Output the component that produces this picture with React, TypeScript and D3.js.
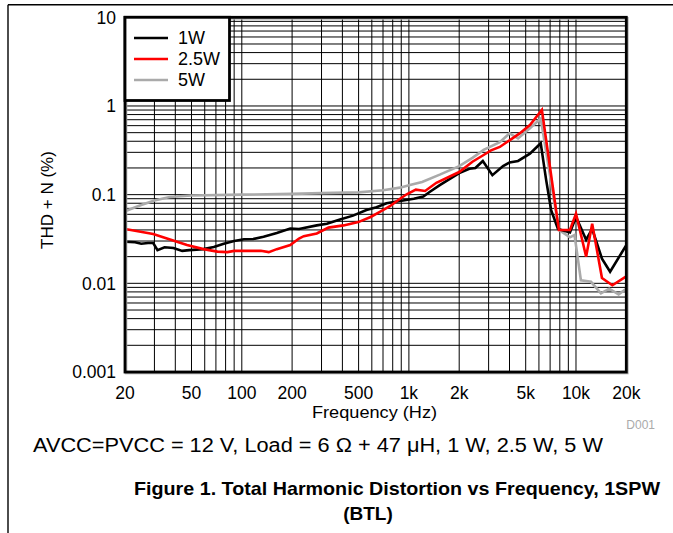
import React from "react";
import * as d3 from "d3";

// ---- data ----
const FREQ_1W = [20, 23, 25, 27.5, 29.5, 31.3, 34.5, 39, 44, 48.5, 59, 68, 78, 90, 103, 117, 135, 162, 195, 220, 281, 323, 387, 463, 557, 640, 735, 885, 1070, 1220, 1330, 1530, 2000, 2300, 2500, 2770, 3160, 3660, 4000, 4500, 5300, 6150, 6630, 7100, 7800, 9200, 10000, 11500, 12500, 14300, 16000, 20000];
const THD_1W = [0.0294, 0.029, 0.028, 0.0285, 0.0285, 0.0237, 0.0255, 0.025, 0.0232, 0.0237, 0.0243, 0.0257, 0.028, 0.03, 0.0314, 0.0316, 0.0335, 0.037, 0.0415, 0.041, 0.045, 0.047, 0.0525, 0.058, 0.067, 0.072, 0.08, 0.085, 0.09, 0.095, 0.107, 0.128, 0.175, 0.196, 0.2, 0.24, 0.166, 0.21, 0.23, 0.24, 0.29, 0.38, 0.146, 0.067, 0.041, 0.0375, 0.056, 0.031, 0.041, 0.019, 0.0135, 0.027];

const FREQ_25W = [20, 29.5, 37.6, 47, 59, 71.5, 82, 90, 113, 130, 145, 162, 195, 220, 235, 281, 330, 406, 498, 590, 670, 770, 885, 970, 1100, 1250, 1460, 2000, 2400, 2800, 3100, 3500, 4000, 4600, 5300, 6250, 7900, 9200, 10000, 11500, 12500, 14300, 16500, 20000];
const THD_25W = [0.041, 0.036, 0.031, 0.027, 0.0243, 0.0228, 0.0225, 0.0232, 0.0232, 0.0233, 0.0225, 0.0243, 0.027, 0.032, 0.034, 0.0365, 0.0425, 0.045, 0.049, 0.056, 0.064, 0.074, 0.09, 0.101, 0.114, 0.11, 0.136, 0.18, 0.235, 0.28, 0.316, 0.345, 0.41, 0.49, 0.61, 0.9, 0.04, 0.04, 0.061, 0.02, 0.047, 0.0115, 0.0095, 0.012];

const FREQ_5W = [20, 25, 30, 37, 50, 100, 200, 300, 500, 700, 885, 1000, 1200, 1530, 2000, 2400, 2800, 3500, 4000, 4500, 5300, 6150, 7900, 9200, 9800, 10700, 12300, 14100, 15800, 18000, 20000];
const THD_5W = [0.065, 0.0763, 0.086, 0.094, 0.098, 0.1, 0.102, 0.104, 0.106, 0.112, 0.12, 0.128, 0.139, 0.168, 0.21, 0.26, 0.32, 0.39, 0.49, 0.43, 0.56, 0.72, 0.04, 0.033, 0.035, 0.0108, 0.0104, 0.0077, 0.0087, 0.0075, 0.0087];

const SERIES_NAMES = ["1W", "2.5W", "5W"];
const SERIES_COLORS = ["#000000", "#ff0000", "#aaaaaa"];

const X_TICKS = [20, 50, 100, 200, 500, 1000, 2000, 5000, 10000, 20000];
const X_TICK_LABELS = ["20", "50", "100", "200", "500", "1k", "2k", "5k", "10k", "20k"];
const Y_TICKS = [0.001, 0.01, 0.1, 1, 10];
const Y_TICK_LABELS = ["0.001", "0.01", "0.1", "1", "10"];

const X_LABEL = "Frequency (Hz)";
const Y_LABEL = "THD + N (%)";
const CAPTION = "AVCC=PVCC = 12 V, Load = 6 \u03A9 + 47 \u03BCH, 1 W, 2.5 W, 5 W";
const TITLE_1 = "Figure 1. Total Harmonic Distortion vs Frequency, 1SPW";
const TITLE_2 = "(BTL)";
const FIG_ID = "D001";

const FONT = "'Liberation Sans', Arial, sans-serif";

export default function App() {
  const W = 673, H = 533;
  const left = 125, right = 626.3, top = 17.3, bottom = 372;

  const x = d3.scaleLog().domain([20, 20000]).range([left, right]);
  const y = d3.scaleLog().domain([0.001, 10]).range([bottom, top]);

  // minor grid values
  const xGrid: number[] = [];
  for (let dec = 10; dec <= 10000; dec *= 10) {
    for (let m = 1; m <= 9; m++) {
      const v = dec * m;
      if (v > 20 && v < 20000) xGrid.push(v);
    }
  }
  const yGrid: number[] = [];
  for (let dec = 0.001; dec < 10; dec *= 10) {
    for (let m = 1; m <= 9; m++) {
      const v = dec * m;
      if (v > 0.0011 && v < 9.9) yGrid.push(v);
    }
  }

  const line = d3
    .line<[number, number]>()
    .x((d) => x(d[0]))
    .y((d) => y(d[1]));

  const series = [
    { f: FREQ_1W, v: THD_1W },
    { f: FREQ_25W, v: THD_25W },
    { f: FREQ_5W, v: THD_5W },
  ];

  // draw order: 5W underneath, then 1W, then 2.5W on top
  const order = [2, 0, 1];

  const legX = left, legY = top, legW = 229.5 - left, legH = 100.5 - top;

  return (
    <svg
      width={W}
      height={H}
      style={{ position: "absolute", left: 0, top: 0, background: "#fff" }}
      fontFamily={FONT}
    >
      <rect x={0} y={0} width={W} height={H} fill="#fff" />
      {/* outer figure frame */}
      <line x1={8} y1={4.7} x2={W} y2={4.7} stroke="#000" strokeWidth={1.4} />
      <line x1={8} y1={4.7} x2={8} y2={H} stroke="#000" strokeWidth={1.4} />

      {/* grid */}
      <g>
        {xGrid.map((v, i) => (
          <line key={"xg" + i} x1={x(v)} x2={x(v)} y1={top} y2={bottom} stroke="#000" strokeWidth={1} />
        ))}
        {yGrid.map((v, i) => (
          <line key={"yg" + i} x1={left} x2={right} y1={y(v)} y2={y(v)} stroke="#000" strokeWidth={1} />
        ))}
      </g>

      {/* series */}
      <g clipPath="url(#plotclip)">
        {order.map((si) => {
          const s = series[si];
          const pts = s.f.map((f, i) => [f, s.v[i]] as [number, number]);
          return (
            <path
              key={"s" + si}
              d={line(pts) || ""}
              fill="none"
              stroke={SERIES_COLORS[si]}
              strokeWidth={2.6}
              strokeLinejoin="miter"
            />
          );
        })}
      </g>
      <defs>
        <clipPath id="plotclip">
          <rect x={left} y={top} width={right - left} height={bottom - top} />
        </clipPath>
      </defs>

      {/* plot frame with slight shadow */}
      <rect x={left + 1} y={top + 1} width={right - left} height={bottom - top} fill="none" stroke="#aaa" strokeWidth={2.6} />
      <rect x={left} y={top} width={right - left} height={bottom - top} fill="none" stroke="#000" strokeWidth={2.8} />

      {/* legend */}
      <rect x={legX} y={legY} width={legW} height={legH} fill="#fff" stroke="#000" strokeWidth={2.8} />
      {SERIES_NAMES.map((n, i) => {
        const cy = 38 + i * 21;
        return (
          <g key={"lg" + i}>
            <line x1={134} x2={168} y1={cy} y2={cy} stroke={SERIES_COLORS[i]} strokeWidth={2.6} />
            <text x={178} y={cy} dy="0.36em" fontSize={18} fill="#000">
              {n}
            </text>
          </g>
        );
      })}

      {/* y ticks */}
      {Y_TICKS.map((v, i) => (
        <text key={"yt" + i} x={116} y={y(v)} dy="0.36em" textAnchor="end" fontSize={17.5} fill="#000">
          {Y_TICK_LABELS[i]}
        </text>
      ))}
      {/* x ticks */}
      {X_TICKS.map((v, i) => (
        <text key={"xt" + i} x={x(v)} y={399} textAnchor="middle" fontSize={17.5} fill="#000">
          {X_TICK_LABELS[i]}
        </text>
      ))}

      <text x={374.5} y={418} textAnchor="middle" fontSize={17} textLength={125} lengthAdjust="spacingAndGlyphs" fill="#000">
        {X_LABEL}
      </text>
      <text
        transform={`translate(53,200) rotate(-90)`}
        textAnchor="middle"
        fontSize={17}
        fill="#000"
      >
        {Y_LABEL}
      </text>

      <text x={655} y={429} textAnchor="end" fontSize={12} fill="#aaa">
        {FIG_ID}
      </text>

      <text x={33} y={452} fontSize={20} textLength={570} lengthAdjust="spacingAndGlyphs" fill="#000">
        {CAPTION}
      </text>

      <text x={134} y={495} fontSize={19} fontWeight="bold" textLength={526} lengthAdjust="spacingAndGlyphs" fill="#000">
        {TITLE_1}
      </text>
      <text x={368} y={520} textAnchor="middle" fontSize={19} fontWeight="bold" fill="#000">
        {TITLE_2}
      </text>
    </svg>
  );
}
